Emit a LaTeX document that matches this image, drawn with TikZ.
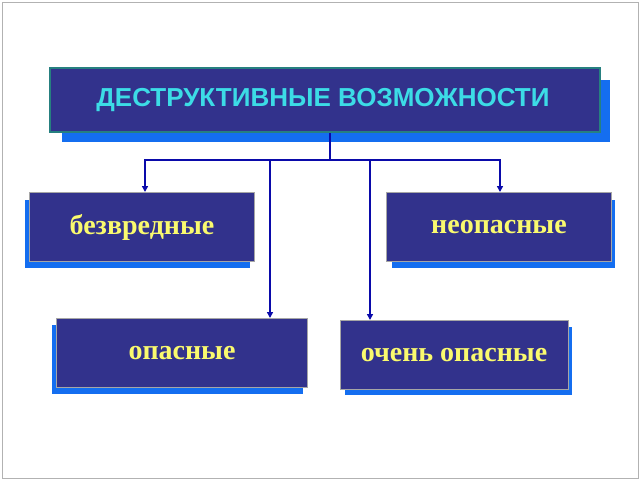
\documentclass[tikz,border=0pt]{standalone}
\usepackage{fontspec}
\setmainfont{Liberation Serif}
\newfontfamily\headfont{Liberation Sans}
\usetikzlibrary{arrows.meta}
\definecolor{boxblue}{RGB}{50,50,140}
\definecolor{shadeblue}{RGB}{20,110,240}
\definecolor{linkblue}{RGB}{10,10,170}
\definecolor{headcyan}{RGB}{60,220,230}
\definecolor{labyellow}{RGB}{250,250,110}
\tikzset{
  card/.style={draw=gray!70, line width=1pt, fill=boxblue, minimum height=69pt, text=labyellow, font=\bfseries\fontsize{28}{32}\selectfont},
  link/.style={draw=linkblue, line width=1.6pt},
  tip/.style={link, -{Triangle[length=6pt,width=6pt]}}
}
\begin{document}
\begin{tikzpicture}[x=1pt,y=-1pt]
\useasboundingbox (0,0) rectangle (640,480);
\draw[gray!60, line width=1pt] (2,2) rectangle (638,478);
% shadows
\fill[shadeblue] (62,80) rectangle (610,142);
\fill[shadeblue] (25,200) rectangle (250,268);
\fill[shadeblue] (392,200) rectangle (615,268);
\fill[shadeblue] (52,325) rectangle (303,394);
\fill[shadeblue] (345,327) rectangle (572,395);
% boxes
\node[card, draw=teal!70!gray, line width=2pt, minimum width=550pt, minimum height=64pt, text=headcyan, font=\headfont\bfseries\fontsize{26}{30}\selectfont] (title) at (325,100) {};
\node[text=headcyan, font=\headfont\bfseries\fontsize{26}{30}\selectfont] (titletext) at (323,100) {ДЕСТРУКТИВНЫЕ ВОЗМОЖНОСТИ};
\node[card, minimum width=225pt] (harmless) at (142,227) {безвредные};
\node[card, minimum width=225pt] (safe) at (499,227) {неопасные};
\node[card, minimum width=251pt] (danger) at (182,353) {опасные};
\node[card, minimum width=228pt] (very) at (454,355) {очень опасные};
% connectors
\coordinate (hub) at (330,160);
\draw[link] (title.south -| hub) -- (hub);
\draw[tip] (hub) -- (145,160) -- (harmless.north -| 145,0);
\draw[tip] (hub) -- (500,160) -- (safe.north -| 500,0);
\draw[tip] (270,160) -- (danger.north -| 270,0);
\draw[tip] (370,160) -- (very.north -| 370,0);
\end{tikzpicture}
\end{document}
